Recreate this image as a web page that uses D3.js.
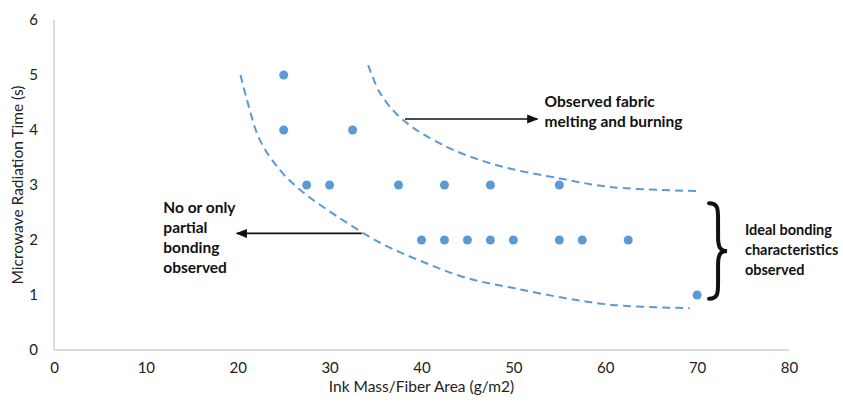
<!DOCTYPE html>
<html>
<head>
<meta charset="utf-8">
<style>
  body { margin: 0; background: #fff; }
  text { font-family: Lato, "Open Sans", sans-serif; }
  .tick text { font-size: 15px; fill: #222; }
  .axis path { stroke: #d0d0d0; stroke-width: 1.5px; }
  .note { font-size: 15.5px; font-weight: bold; fill: #111; }
  .bound { fill: none; stroke: #5b9bd5; stroke-width: 2px; stroke-dasharray: 8,5; }
</style>
</head>
<body>
<svg width="843" height="403"></svg>
<script src="https://d3js.org/d3.v7.min.js"></script>
<script>
// measured points: ink mass (g/m2) vs radiation time (s)
var inkMass = [25, 25, 32.5, 27.5, 30, 37.5, 42.5, 47.5, 55, 40, 42.5, 45, 47.5, 50, 55, 57.5, 62.5, 70];
var radTime = [5, 4, 4, 3, 3, 3, 3, 3, 3, 2, 2, 2, 2, 2, 2, 2, 2, 1];

// hand-drawn boundaries of the ideal region
var lowerX = [20.3, 21.0, 22.4, 24.6, 26.8, 29.3, 35.5, 40.2, 44.9, 49.9, 55.4, 60.8, 69.2];
var lowerY = [5.0, 4.55, 3.82, 3.27, 2.91, 2.6, 1.95, 1.6, 1.31, 1.13, 0.95, 0.82, 0.76];
var upperX = [34.2, 35.5, 38.0, 42.8, 48.2, 54.7, 60.8, 70.3];
var upperY = [5.18, 4.67, 4.18, 3.69, 3.36, 3.13, 2.96, 2.89];

var xTicks = [0, 10, 20, 30, 40, 50, 60, 70, 80];
var yTicks = [0, 1, 2, 3, 4, 5, 6];

var margin = {top: 20, right: 54, bottom: 53, left: 54};
var svg = d3.select("svg"),
    width = +svg.attr("width") - margin.left - margin.right,
    height = +svg.attr("height") - margin.top - margin.bottom,
    g = svg.append("g").attr("transform", "translate(" + margin.left + "," + margin.top + ")");

var x = d3.scaleLinear().domain([0, 80]).range([0, width]);
var y = d3.scaleLinear().domain([0, 6]).range([height, 0]);

g.append("g")
    .attr("class", "axis")
    .attr("transform", "translate(0," + height + ")")
    .call(d3.axisBottom(x).tickValues(xTicks).tickFormat(d3.format("d")).tickSize(0).tickPadding(12))
    .call(function (a) { a.select(".domain").attr("d", "M0,0H" + width); });

g.append("g")
    .attr("class", "axis")
    .call(d3.axisLeft(y).tickValues(yTicks).tickFormat(d3.format("d")).tickSize(0).tickPadding(16))
    .call(function (a) { a.select(".domain").attr("d", "M0,0V" + height); });

svg.append("text")
    .attr("x", margin.left + width / 2)
    .attr("y", 392)
    .attr("text-anchor", "middle")
    .style("font-size", "15.5px")
    .attr("fill", "#222")
    .text("Ink Mass/Fiber Area (g/m2)");

svg.append("text")
    .attr("transform", "translate(23," + (margin.top + height / 2) + ") rotate(-90)")
    .attr("text-anchor", "middle")
    .style("font-size", "15.5px")
    .attr("fill", "#222")
    .text("Microwave Radiation Time (s)");

var line = d3.line()
    .curve(d3.curveCatmullRom)
    .x(function (d) { return x(d[0]); })
    .y(function (d) { return y(d[1]); });

g.append("path").attr("class", "bound").attr("d", line(d3.zip(lowerX, lowerY)));
g.append("path").attr("class", "bound").attr("d", line(d3.zip(upperX, upperY)));

g.selectAll(".dot")
    .data(d3.zip(inkMass, radTime))
    .enter().append("circle")
    .attr("class", "dot")
    .attr("cx", function (d) { return x(d[0]); })
    .attr("cy", function (d) { return y(d[1]); })
    .attr("r", 4.5)
    .attr("fill", "#5b9bd5");

// arrowhead
svg.append("defs").append("marker")
    .attr("id", "head")
    .attr("viewBox", "0 0 10 10")
    .attr("refX", 9).attr("refY", 5)
    .attr("markerWidth", 7).attr("markerHeight", 7)
    .attr("orient", "auto")
    .append("path").attr("d", "M0,1L10,5L0,9z").attr("fill", "#111");

g.append("line")
    .attr("x1", x(38.2)).attr("y1", y(4.2))
    .attr("x2", x(52.6)).attr("y2", y(4.2))
    .attr("stroke", "#111").attr("stroke-width", 1.6)
    .attr("marker-end", "url(#head)");

g.append("line")
    .attr("x1", x(33.5)).attr("y1", y(2.12))
    .attr("x2", x(19.9)).attr("y2", y(2.12))
    .attr("stroke", "#111").attr("stroke-width", 1.6)
    .attr("marker-end", "url(#head)");

function note(lines, px, py, size) {
    var t = g.append("text").attr("class", "note").attr("x", px).attr("y", py);
    if (size) t.style("font-size", size + "px");
    lines.forEach(function (s, i) {
        t.append("tspan").attr("x", px).attr("dy", i ? 20 : 0).text(s);
    });
}
note(["Observed fabric", "melting and burning"], x(53.4), y(4.42));
note(["No or only", "partial", "bonding", "observed"], x(11.9), y(2.5));
note(["Ideal bonding", "characteristics", "observed"], x(75.2), y(2.09), 14.5);

// curly brace to the right of the ideal region
var bx = x(71.3), by0 = y(2.67), by1 = y(0.93), bm = (by0 + by1) / 2, bw = 18;
var q = bw / 2;
g.append("path")
    .attr("d", "M" + bx + "," + by0 +
        " C" + (bx + q) + "," + by0 + " " + (bx + q) + "," + (by0 + 6) + " " + (bx + q) + "," + (by0 + 16) +
        " L" + (bx + q) + "," + (bm - 14) +
        " C" + (bx + q) + "," + (bm - 4) + " " + (bx + q + 2) + "," + bm + " " + (bx + bw) + "," + bm +
        " C" + (bx + q + 2) + "," + bm + " " + (bx + q) + "," + (bm + 4) + " " + (bx + q) + "," + (bm + 14) +
        " L" + (bx + q) + "," + (by1 - 16) +
        " C" + (bx + q) + "," + (by1 - 6) + " " + (bx + q) + "," + by1 + " " + bx + "," + by1)
    .attr("fill", "none")
    .attr("stroke", "#111")
    .attr("stroke-width", 4)
    .attr("stroke-linecap", "round");
</script>
</body>
</html>
